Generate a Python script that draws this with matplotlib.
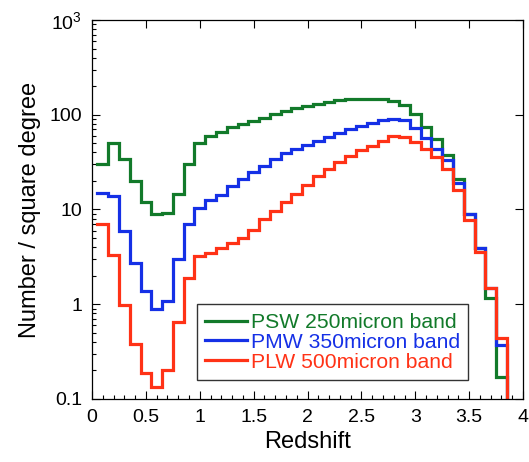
import numpy as np
import matplotlib
matplotlib.use("Agg")
import matplotlib.pyplot as plt
from matplotlib.ticker import FixedLocator, FixedFormatter, MultipleLocator, LogLocator, NullFormatter

plt.rcParams['font.family'] = ['Liberation Sans', 'DejaVu Sans']
plt.rcParams['mathtext.fontset'] = 'custom'
plt.rcParams['mathtext.rm'] = 'Liberation Sans'
plt.rcParams['mathtext.it'] = 'Liberation Sans'

# Bin centres (redshift), bin width 0.1
z_centres = np.round(np.arange(0.1, 3.81, 0.1), 2)
bin_width = 0.1

psw_250 = [30, 50, 34, 20, 12, 9.0, 9.1, 14.5, 30, 50,
           60, 66, 74, 79, 85, 93, 102, 110, 117, 123,
           129, 136, 142, 145, 146, 146, 145, 140, 127, 101,
           75, 55, 38, 21, 9.0, 3.9, 1.15, 0.17]
pmw_350 = [15, 14, 6.0, 2.7, 1.37, 0.88, 1.08, 3.0, 7.0, 10.3,
           12.6, 14.3, 17.6, 21, 24.7, 29, 34, 39, 43, 48,
           53, 58, 64, 70, 76, 82, 87, 91, 87, 72,
           57, 44, 33.6, 19, 9.0, 3.9, 1.5, 0.37]
plw_500 = [7.0, 3.33, 0.99, 0.38, 0.19, 0.133, 0.2, 0.65, 1.9, 3.25,
           3.5, 3.95, 4.4, 5.0, 6.1, 7.85, 9.7, 11.9, 14.6, 18.3,
           22.4, 27, 32, 37, 42, 47, 53, 60, 58, 52,
           44, 35.5, 27, 16, 7.8, 3.55, 1.47, 0.44]

labels = ['PSW 250micron band', 'PMW 350micron band', 'PLW 500micron band']
colors = ['#127a2a', '#1530e6', '#ff3216']

y_ticks = [0.1, 1, 10, 100, 1000]
y_ticklabels = ['0.1', '1', '10', '100', r'$10^3$']
x_ticks = [0, 0.5, 1, 1.5, 2, 2.5, 3, 3.5, 4]
x_ticklabels = ['0', '0.5', '1', '1.5', '2', '2.5', '3', '3.5', '4']

fig = plt.figure(figsize=(5.29, 4.62), dpi=100)
ax = fig.add_axes([0.174, 0.1364, 0.8147, 0.8203])

edges = np.concatenate([z_centres - bin_width / 2, [z_centres[-1] + bin_width / 2]])
handles = []
for vals, lab, col in zip([psw_250, pmw_350, plw_500], labels, colors):
    vals = np.asarray(vals, dtype=float)
    xs = np.concatenate([edges[:-1], [edges[-1], edges[-1]]])
    ys = np.concatenate([vals, [vals[-1], 1e-4]])
    h, = ax.step(xs, ys, where='post', color=col, lw=2.3, label=lab, solid_joinstyle='miter')
    handles.append(h)

ax.set_yscale('log')
ax.set_xlim(0, 4)
ax.set_ylim(0.1, 1000)

ax.xaxis.set_major_locator(FixedLocator(x_ticks))
ax.xaxis.set_major_formatter(FixedFormatter(x_ticklabels))
ax.xaxis.set_minor_locator(MultipleLocator(0.1))
ax.yaxis.set_major_locator(FixedLocator(y_ticks))
ax.yaxis.set_major_formatter(FixedFormatter(y_ticklabels))
ax.yaxis.set_minor_locator(LogLocator(base=10, subs=np.arange(2, 10)))
ax.yaxis.set_minor_formatter(NullFormatter())

ax.tick_params(which='both', direction='in', labelsize=14, width=0.8, colors='black')
ax.tick_params(which='major', length=6, pad=7)
ax.tick_params(which='minor', length=3)
ax.tick_params(which='major', right=True, top=True)

for s in ax.spines.values():
    s.set_linewidth(0.9)

ax.set_xlabel('Redshift', fontsize=17, labelpad=4)
ax.set_ylabel('Number / square degree', fontsize=17, labelpad=6)

leg = ax.legend(handles=handles, loc='lower left', bbox_to_anchor=(0.2436, 0.05),
                fontsize=15.2, frameon=True, fancybox=False, edgecolor='black',
                handlelength=1.95, handletextpad=0.2, labelspacing=0.04,
                borderpad=0.4, borderaxespad=0)
leg.get_frame().set_linewidth(1.0)
for t, c in zip(leg.get_texts(), colors):
    t.set_color(c)

fig.savefig('out.png', dpi=100)
